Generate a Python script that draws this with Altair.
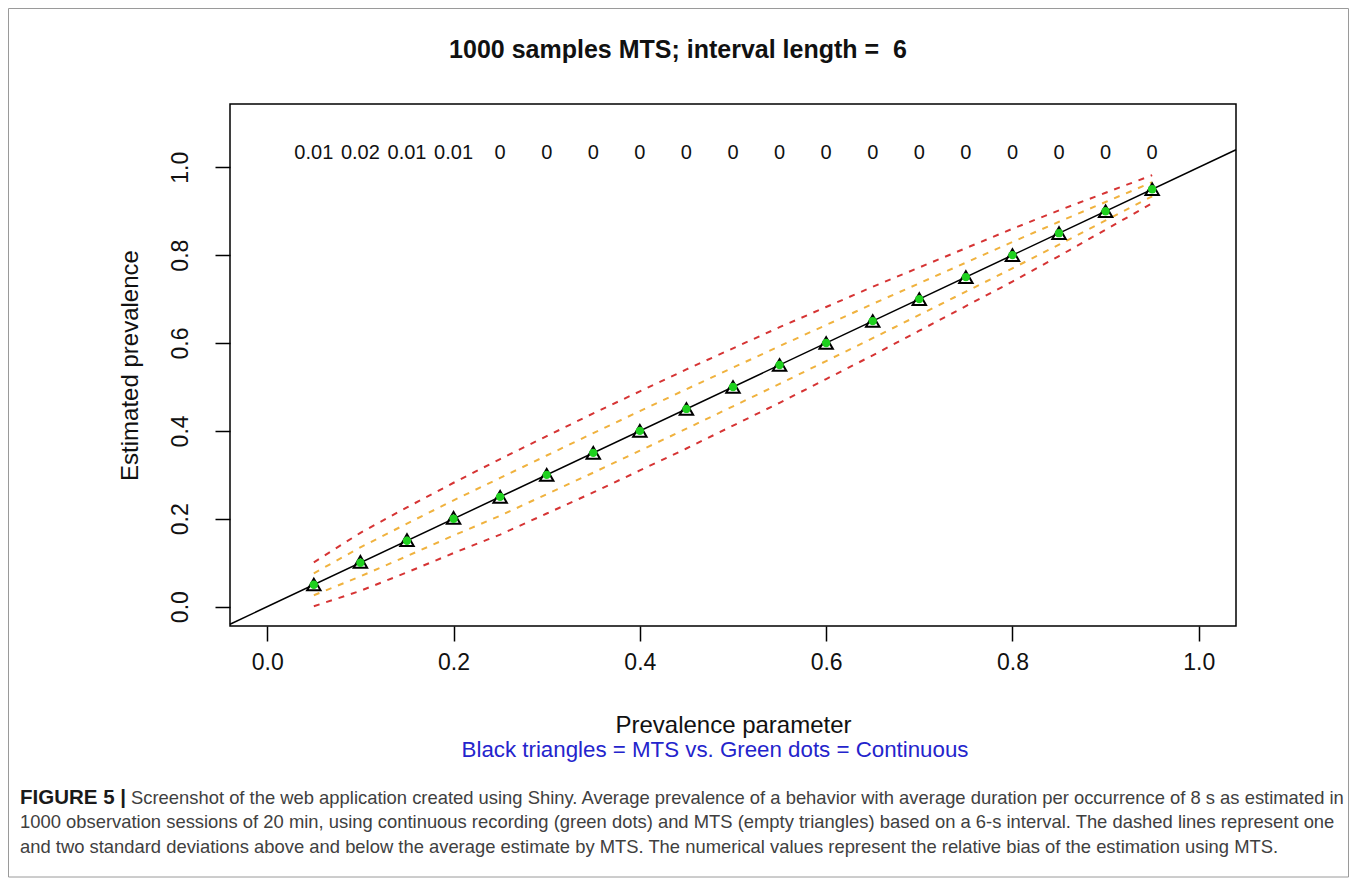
import altair as alt
import pandas as pd

# ---------------- data ----------------
prevalence = [0.05, 0.10, 0.15, 0.20, 0.25, 0.30, 0.35, 0.40, 0.45, 0.50,
              0.55, 0.60, 0.65, 0.70, 0.75, 0.80, 0.85, 0.90, 0.95]
mts_mean = [0.0505, 0.102, 0.1515, 0.202, 0.250, 0.300, 0.350, 0.400, 0.450, 0.500,
            0.550, 0.600, 0.650, 0.700, 0.750, 0.800, 0.850, 0.900, 0.950]
cont_mean = [0.050, 0.100, 0.150, 0.200, 0.250, 0.300, 0.350, 0.400, 0.450, 0.500,
             0.550, 0.600, 0.650, 0.700, 0.750, 0.800, 0.850, 0.900, 0.950]
upper2 = [0.101, 0.168, 0.226, 0.282, 0.336, 0.388, 0.440, 0.490, 0.540, 0.588,
          0.636, 0.682, 0.728, 0.772, 0.816, 0.860, 0.902, 0.942, 0.982]
upper1 = [0.076, 0.135, 0.189, 0.242, 0.293, 0.344, 0.395, 0.445, 0.495, 0.544,
          0.593, 0.641, 0.689, 0.736, 0.783, 0.830, 0.876, 0.921, 0.966]
lower1 = [0.026, 0.069, 0.115, 0.162, 0.207, 0.256, 0.305, 0.355, 0.405, 0.456,
          0.507, 0.559, 0.611, 0.664, 0.717, 0.770, 0.824, 0.879, 0.934]
lower2 = [0.001, 0.036, 0.078, 0.122, 0.164, 0.212, 0.260, 0.310, 0.360, 0.412,
          0.464, 0.518, 0.572, 0.628, 0.684, 0.740, 0.798, 0.858, 0.918]
bias_labels = ["0.01", "0.02", "0.01", "0.01", "0", "0", "0", "0", "0", "0",
               "0", "0", "0", "0", "0", "0", "0", "0", "0"]
bias_label_y = 1.033

x_ticks = [0.0, 0.2, 0.4, 0.6, 0.8, 1.0]
y_ticks = [0.0, 0.2, 0.4, 0.6, 0.8, 1.0]
x_domain = [-0.04, 1.04]
y_domain = [-0.044, 1.144]

title_text = "1000 samples MTS; interval length = \u00a06"
x_title = "Prevalence parameter"
y_title = "Estimated prevalence"
subtitle_text = "Black triangles = MTS vs. Green dots = Continuous"
caption_bold = "FIGURE 5 |"
caption_line1 = ("Screenshot of the web application created using Shiny. Average prevalence of a "
                 "behavior with average duration per occurrence of 8 s as estimated in")
caption_line2 = ("1000 observation sessions of 20 min, using continuous recording (green dots) and MTS "
                 "(empty triangles) based on a 6-s interval. The dashed lines represent one")
caption_line3 = ("and two standard deviations above and below the average estimate by MTS. "
                 "The numerical values represent the relative bias of the estimation using MTS.")

# ---------------- layout constants ----------------
W, H = 1006, 522
PAD_L, PAD_T = 222, 96
SVG_W, SVG_H = 1341, 870
FONT = "Liberation Sans"
CAP_FONT = "Liberation Sans"
CAP_SIZE = 18.4

# ---------------- tables ----------------
band_rows = []
for name, series in [("upper2", upper2), ("upper1", upper1), ("lower1", lower1), ("lower2", lower2)]:
    for p, val in zip(prevalence, series):
        band_rows.append({"p": p, "v": val, "band": name})
bands = pd.DataFrame(band_rows)
mts_df = pd.DataFrame({"p": prevalence, "v": mts_mean})
cont_df = pd.DataFrame({"p": prevalence, "v": cont_mean})
bias_df = pd.DataFrame({"p": prevalence, "v": [bias_label_y] * len(prevalence), "t": bias_labels})
diag_df = pd.DataFrame({"p": x_domain, "v": x_domain})

xs = alt.Scale(domain=x_domain, nice=False, zero=False)
ys = alt.Scale(domain=y_domain, nice=False, zero=False)

x_axis = alt.Axis(values=x_ticks, format=".1f", title=x_title, grid=False, domain=False,
                  tickSize=15, tickWidth=1.5, tickColor="black",
                  labelFont=FONT, labelFontSize=23, labelColor="#111",
                  labelPadding=10, labelFlush=False,
                  titleFont=FONT, titleFontSize=24, titleFontWeight="normal", titleColor="#111",
                  titlePadding=39)
y_axis = alt.Axis(values=y_ticks, format=".1f", title=y_title, grid=False, domain=False,
                  tickSize=15, tickWidth=1.5, tickColor="black",
                  labelFont=FONT, labelFontSize=23, labelColor="#111",
                  labelAngle=270, labelAlign="center", labelBaseline="middle",
                  labelPadding=35, labelFlush=False,
                  titleFont=FONT, titleFontSize=24, titleFontWeight="normal", titleColor="#111",
                  titlePadding=27)

X = alt.X("p:Q", scale=xs, axis=x_axis)
Y = alt.Y("v:Q", scale=ys, axis=y_axis)

band_lines = alt.Chart(bands).mark_line(strokeDash=[6, 7], strokeWidth=2).encode(
    x=X, y=Y,
    color=alt.Color("band:N", legend=None,
                    scale=alt.Scale(domain=["upper2", "upper1", "lower1", "lower2"],
                                    range=["#d63434", "#f0b23e", "#f0b23e", "#d63434"])),
    detail="band:N",
)

diag_line = alt.Chart(diag_df).mark_line(color="black", strokeWidth=1.5).encode(x=X, y=Y)

tri = alt.Chart(mts_df).mark_point(shape="triangle-up", filled=False, color="black",
                                   strokeWidth=2, size=180, opacity=1).encode(x=X, y=Y)

dots = alt.Chart(cont_df).mark_point(shape="circle", filled=True, color="#1fd11f",
                                     size=70, opacity=1).encode(x=X, y=Y)

bias = alt.Chart(bias_df).mark_text(font=FONT, fontSize=20, color="#111").encode(
    x=X, y=Y, text="t:N")


def text_layer(txt, x, y, **kw):
    return alt.Chart(pd.DataFrame({"t": [txt]})).mark_text(baseline="middle", **kw).encode(
        x=alt.value(x), y=alt.value(y), text="t:N")


title = text_layer(title_text, 448, -54, font=FONT, fontSize=25, fontWeight="bold",
                   color="#111", align="center")
subtitle = text_layer(subtitle_text, 485, 646, font=FONT, fontSize=22.3, color="#2424cc",
                      align="center")
cap_b = text_layer(caption_bold, -210, 694, font=CAP_FONT, fontSize=20.5, fontWeight="bold",
                   color="#1a1a1a", align="left")
cap1 = text_layer(caption_line1, -99, 694, font=CAP_FONT, fontSize=CAP_SIZE, color="#404040",
                  align="left")
cap2 = text_layer(caption_line2, -210, 718, font=CAP_FONT, fontSize=CAP_SIZE, color="#404040",
                  align="left")
cap3 = text_layer(caption_line3, -210, 743, font=CAP_FONT, fontSize=CAP_SIZE, color="#404040",
                  align="left")

frame = alt.Chart(pd.DataFrame({"k": [0]})).mark_rect(
    fillOpacity=0, stroke="#9a9a9a", strokeWidth=1
).encode(x=alt.value(-PAD_L + 0.5), x2=alt.value(SVG_W - PAD_L - 0.5),
         y=alt.value(-PAD_T + 0.5), y2=alt.value(SVG_H - PAD_T - 1))

chart = alt.layer(
    band_lines, diag_line, tri, dots, bias, frame, title, subtitle, cap_b, cap1, cap2, cap3
).properties(
    width=W, height=H,
    background="white",
    autosize=alt.AutoSizeParams(type="none"),
    padding={"left": PAD_L, "top": PAD_T, "right": SVG_W - PAD_L - W, "bottom": SVG_H - PAD_T - H},
).configure_view(stroke="black", strokeWidth=1.5)

chart.save("out.html", embed_options={"renderer": "svg", "actions": False})
